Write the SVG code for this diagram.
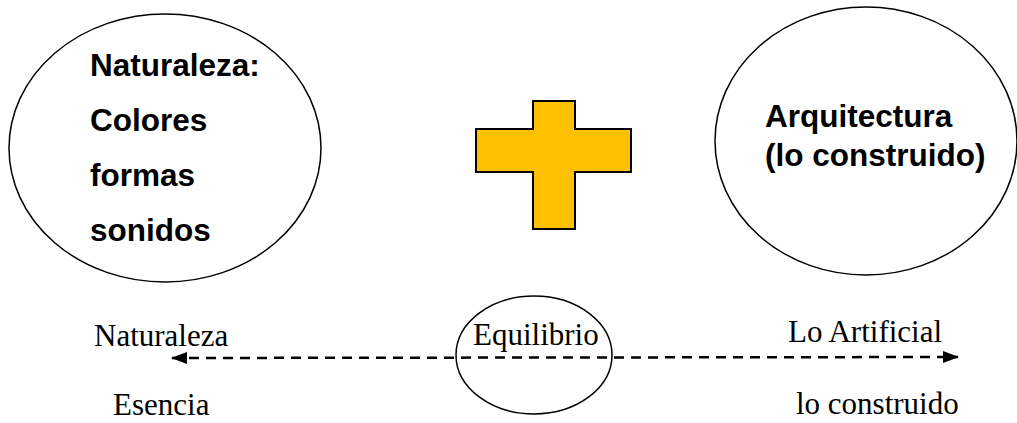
<svg xmlns="http://www.w3.org/2000/svg" width="1017" height="423" viewBox="0 0 1017 423">
<style>
.shape{fill:none;stroke:#000;stroke-width:1.5}
.bold{font-family:"Liberation Sans",Arial,sans-serif;font-weight:bold;font-size:31.5px;fill:#000}
.serif{font-family:"Liberation Serif","Times New Roman",serif;font-size:31px;fill:#000}
.conn{fill:none;stroke:#000;stroke-width:2.5;stroke-dasharray:10 7}
</style>
<defs>
<marker id="ah" markerWidth="16" markerHeight="12" refX="15" refY="6" orient="auto-start-reverse" markerUnits="userSpaceOnUse">
<path d="M0,0 L16,6 L0,12 Z" fill="#000"/>
</marker>
</defs>
<g id="naturaleza">
<ellipse class="shape" cx="165" cy="148" rx="156" ry="134"/>
<text class="bold" x="90" y="76">Naturaleza:</text>
<text class="bold" x="90" y="131">Colores</text>
<text class="bold" x="90" y="186">formas</text>
<text class="bold" x="90" y="241">sonidos</text>
</g>
<g id="plus">
<path d="M533,101 H575 V129 H631 V172 H575 V229 H533 V172 H476 V129 H533 Z" fill="#FFC000" stroke="#000" stroke-width="2"/>
</g>
<g id="arquitectura">
<ellipse class="shape" cx="866" cy="141" rx="151" ry="134"/>
<text class="bold" x="765" y="127">Arquitectura</text>
<text class="bold" x="765" y="166">(lo construido)</text>
</g>
<g id="connectors">
<line class="conn" x1="172" y1="358" x2="958" y2="357" marker-start="url(#ah)" marker-end="url(#ah)"/>
</g>
<g id="equilibrio">
<ellipse class="shape" cx="534" cy="355" rx="78" ry="59"/>
<text class="serif" x="473" y="345">Equilibrio</text>
</g>
<g id="labels">
<text class="serif" x="94" y="346">Naturaleza</text>
<text class="serif" x="113" y="415">Esencia</text>
<text class="serif" x="788" y="342">Lo Artificial</text>
<text class="serif" x="796" y="414">lo construido</text>
</g>
</svg>
